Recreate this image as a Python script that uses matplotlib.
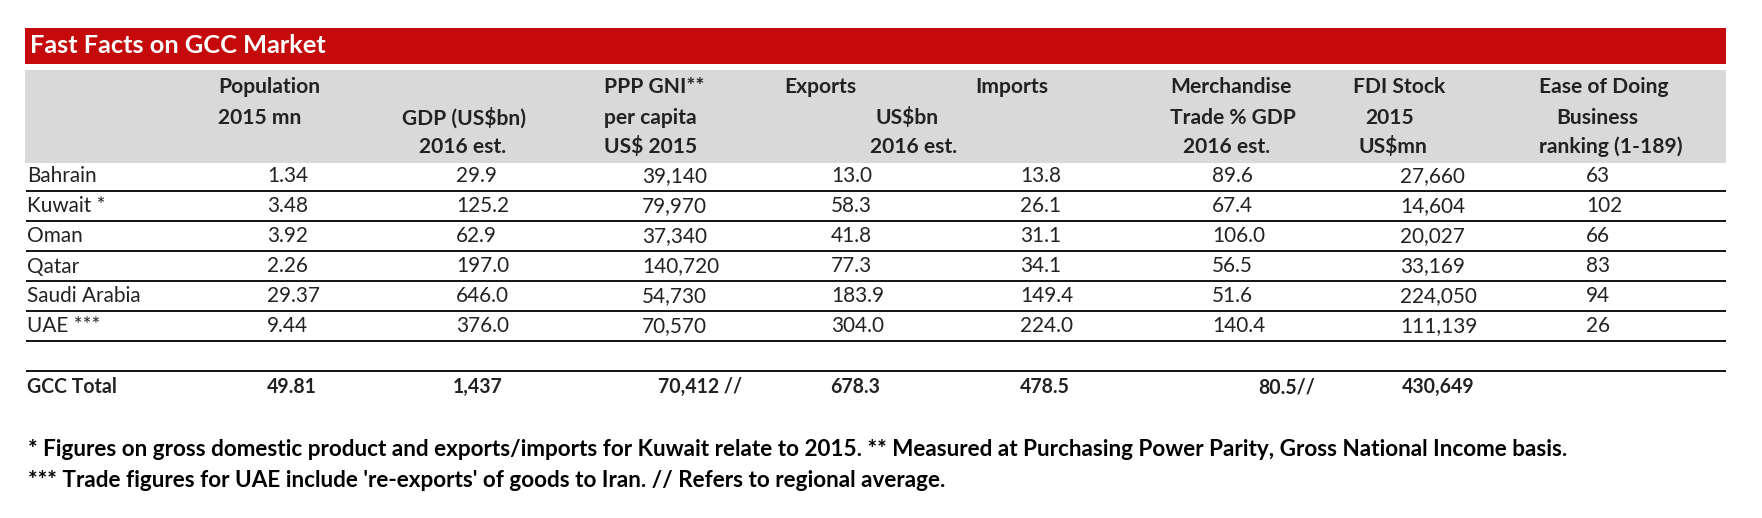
import matplotlib
matplotlib.use("Agg")
import matplotlib.pyplot as plt
from matplotlib.patches import Rectangle

# ---------------- data ----------------
title = "Fast Facts on GCC Market"
countries = ["Bahrain", "Kuwait *", "Oman", "Qatar", "Saudi Arabia", "UAE ***"]
population = [1.34, 3.48, 3.92, 2.26, 29.37, 9.44]
gdp = [29.9, 125.2, 62.9, 197.0, 646.0, 376.0]
ppp_gni = [39140, 79970, 37340, 140720, 54730, 70570]
exports = [13.0, 58.3, 41.8, 77.3, 183.9, 304.0]
imports = [13.8, 26.1, 31.1, 34.1, 149.4, 224.0]
merch_trade = [89.6, 67.4, 106.0, 56.5, 51.6, 140.4]
fdi_stock = [27660, 14604, 20027, 33169, 224050, 111139]
ease_rank = [63, 102, 66, 83, 94, 26]

total_label = "GCC Total"
total_values = ["49.81", "1,437", "70,412 //", "678.3", "478.5", "80.5//", "430,649", ""]

header_lines = [
    ["Population", "2015 mn"],
    ["GDP (US$bn)", "2016 est."],
    ["PPP GNI**", "per capita", "US$ 2015"],
    ["Exports", "US$bn", "2016 est."],
    ["Imports"],
    ["Merchandise", "Trade % GDP", "2016 est."],
    ["FDI Stock", "2015", "US$mn"],
    ["Ease of Doing", "Business", "ranking (1-189)"],
]

footnotes = [
    "* Figures on gross domestic product and exports/imports for Kuwait relate to 2015. "
    "** Measured at Purchasing Power Parity, Gross National Income basis.",
    "*** Trade figures for UAE include 're-exports' of goods to Iran. // Refers to regional average.",
]

# ---------------- layout (pixels) ----------------
W, H = 1762, 518
FONT = "Lato"
RED = "#C40A0A"
GRAY = "#D9D9D9"
TXT = "#222222"

fig = plt.figure(figsize=(W / 100, H / 100), dpi=100)
ax = fig.add_axes([0, 0, 1, 1])
ax.set_xlim(0, W)
ax.set_ylim(H, 0)
ax.axis("off")
renderer = fig.canvas.get_renderer()


def fit_size(text, weight, target):
    t = ax.text(0, 0, text, fontsize=10, family=FONT, weight=weight)
    w = t.get_window_extent(renderer).width
    t.remove()
    return 10 * target / w


X0, X1 = 26, 1726
title_fs = fit_size(title, "bold", 297)
head_fs = fit_size("Population", "bold", 102)
data_fs = fit_size("Bahrain", "normal", 70)
total_fs = fit_size("430,649", "bold", 73)
foot_fs = fit_size(footnotes[0], "bold", 1549)

# red title band
ax.add_patch(Rectangle((X0 - 1, 27.5), X1 - X0 + 1, 36, color=RED, lw=0))
ax.text(30, 45.5, title, color="white", fontsize=title_fs, family=FONT,
        weight="bold", va="center", ha="left")

# gray header band
ax.add_patch(Rectangle((X0 - 1, 70), X1 - X0 + 1, 93, color=GRAY, lw=0))

head_y = [87, 117.5, 147]
# per column: list of (x, ha, line_index)
head_pos = [
    [(218, "left", 0), (218, "left", 1)],
    [(464, "center", 1), (463, "center", 2)],
    [(604, "left", 0), (604, "left", 1), (604, "left", 2)],
    [(784, "left", 0), (907, "center", 1), (914, "center", 2)],
    [(975, "left", 0)],
    [(1170, "left", 0), (1170, "left", 1), (1183, "left", 2)],
    [(1353, "left", 0), (1365, "left", 1), (1359, "left", 2)],
    [(1539, "left", 0), (1556, "left", 1), (1539, "left", 2)],
]
for lines, pos in zip(header_lines, head_pos):
    for txt, (x, ha, li) in zip(lines, pos):
        ax.text(x, head_y[li], txt, fontsize=head_fs, family=FONT, weight="bold",
                color=TXT, ha=ha, va="center")

# data rows
col_x = [267, 456, 642, 831, 1020, 1212, 1400, 1586]
row_y = [176.5, 206.5, 236.5, 266.5, 296.5, 326.5]
line_y = [190.5, 221, 251, 280.5, 310.5, 340.5]
fmts = ["{:.2f}", "{:.1f}", "{:,.0f}", "{:.1f}", "{:.1f}", "{:.1f}", "{:,.0f}", "{:d}"]
columns = [population, gdp, ppp_gni, exports, imports, merch_trade, fdi_stock, ease_rank]

for i, name in enumerate(countries):
    y = row_y[i]
    ax.text(27, y, name, fontsize=data_fs, family=FONT, color=TXT, va="center", ha="left")
    for x, f, col in zip(col_x, fmts, columns):
        ax.text(x, y, f.format(col[i]), fontsize=data_fs, family=FONT, color=TXT,
                va="center", ha="left")

ax.hlines(line_y, X0, X1, color="black", lw=1.3)
ax.hlines([370.5], X0, X1, color="black", lw=1.3)

# total row
total_x = [267, 453, 658, 830, 1020, 1258, 1402, 1586]
ty = 387
ax.text(27, ty, total_label, fontsize=total_fs, family=FONT, weight="bold",
        color=TXT, va="center", ha="left")
for x, v in zip(total_x, total_values):
    if v:
        ax.text(x, ty, v, fontsize=total_fs, family=FONT, weight="bold",
                color=TXT, va="center", ha="left")

# footnotes
for y, txt in zip([450, 480.5], footnotes):
    ax.text(28, y, txt, fontsize=foot_fs, family=FONT, weight="bold",
            color="black", va="center", ha="left")

fig.savefig("out.png", dpi=100, facecolor="white")
